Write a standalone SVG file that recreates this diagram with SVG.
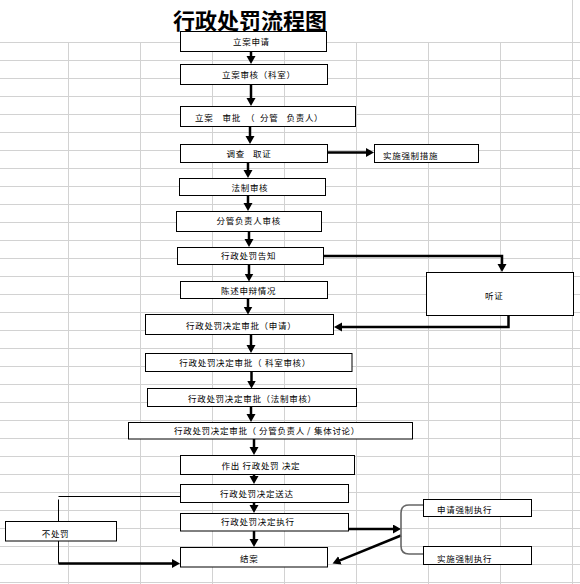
<svg xmlns="http://www.w3.org/2000/svg" width="580" height="584" viewBox="0 0 580 584">
<defs>
<style>
.grid line{stroke:#d2d2d2;stroke-width:1}
.box rect{fill:#fff;stroke:#000;stroke-width:1}
.t{font-family:"Noto Sans CJK SC","Noto Sans",sans-serif;font-size:8.5px;letter-spacing:0.7px;fill:#000}
.title{font-family:"Noto Sans CJK SC","Noto Sans",sans-serif;font-size:22px;font-weight:bold;fill:#000}
.arr{fill:none;stroke:#000;stroke-width:2.5;marker-end:url(#ah)}
.thin{fill:none;stroke:#000;stroke-width:1}
.brace{fill:none;stroke:#666;stroke-width:1.6}
</style>
<marker id="ah" markerUnits="userSpaceOnUse" markerWidth="10" markerHeight="10" refX="2" refY="4.5" orient="auto">
<path d="M0,0 L8,4.5 L0,9 Z" fill="#000"/>
</marker>
</defs>
<rect width="580" height="584" fill="#fff"/>
<g class="grid" id="grid">
<line x1="0" y1="42.5" x2="580" y2="42.5"/><line x1="0" y1="60.5" x2="580" y2="60.5"/><line x1="0" y1="78.5" x2="580" y2="78.5"/><line x1="0" y1="96.5" x2="580" y2="96.5"/><line x1="0" y1="114.5" x2="580" y2="114.5"/><line x1="0" y1="132.5" x2="580" y2="132.5"/><line x1="0" y1="150.5" x2="580" y2="150.5"/><line x1="0" y1="168.5" x2="580" y2="168.5"/><line x1="0" y1="186.5" x2="580" y2="186.5"/><line x1="0" y1="204.5" x2="580" y2="204.5"/><line x1="0" y1="222.5" x2="580" y2="222.5"/><line x1="0" y1="240.5" x2="580" y2="240.5"/><line x1="0" y1="258.5" x2="580" y2="258.5"/><line x1="0" y1="276.5" x2="580" y2="276.5"/><line x1="0" y1="294.5" x2="580" y2="294.5"/><line x1="0" y1="312.5" x2="580" y2="312.5"/><line x1="0" y1="330.5" x2="580" y2="330.5"/><line x1="0" y1="348.5" x2="580" y2="348.5"/><line x1="0" y1="366.5" x2="580" y2="366.5"/><line x1="0" y1="384.5" x2="580" y2="384.5"/><line x1="0" y1="402.5" x2="580" y2="402.5"/><line x1="0" y1="420.5" x2="580" y2="420.5"/><line x1="0" y1="438.5" x2="580" y2="438.5"/><line x1="0" y1="456.5" x2="580" y2="456.5"/><line x1="0" y1="474.5" x2="580" y2="474.5"/><line x1="0" y1="492.5" x2="580" y2="492.5"/><line x1="0" y1="510.5" x2="580" y2="510.5"/><line x1="0" y1="528.5" x2="580" y2="528.5"/><line x1="0" y1="546.5" x2="580" y2="546.5"/><line x1="0" y1="564.5" x2="580" y2="564.5"/><line x1="0" y1="582.5" x2="580" y2="582.5"/>
<line x1="68.5" y1="42" x2="68.5" y2="584"/><line x1="140.5" y1="42" x2="140.5" y2="584"/><line x1="212.5" y1="42" x2="212.5" y2="584"/><line x1="284.5" y1="42" x2="284.5" y2="584"/><line x1="356.5" y1="42" x2="356.5" y2="584"/><line x1="428.5" y1="42" x2="428.5" y2="584"/><line x1="500.5" y1="42" x2="500.5" y2="584"/><line x1="572.5" y1="0" x2="572.5" y2="584"/>
</g>
<text class="title" x="173" y="29">行政处罚流程图</text>
<g id="connectors">
<path class="arr" d="M251,52 V58"/>
<path class="arr" d="M251,85 V100"/>
<path class="arr" d="M250,127 V138"/>
<path class="arr" d="M248,163 V172"/>
<path class="arr" d="M248,196 V205"/>
<path class="arr" d="M249,232 V241"/>
<path class="arr" d="M249,265 V275.5"/>
<path class="arr" d="M248,299 V308.5"/>
<path class="arr" d="M251,335 V347"/>
<path class="arr" d="M251.5,372 V382.5"/>
<path class="arr" d="M251,407 V416"/>
<path class="arr" d="M254,439 V449"/>
<path class="arr" d="M254,475 V478"/>
<path class="arr" d="M254,503 V507"/>
<path class="arr" d="M254,531 V541"/>
<path class="arr" d="M327.5,152.5 H368"/>
<path class="arr" d="M324,256 H502 V266"/>
<path class="arr" d="M508.5,315 V327 H340"/>
<path class="thin" d="M180,496.5 H58.5"/>
<path class="thin" d="M58.5,499.5 V521"/>
<path class="thin" d="M58.5,541 V563.5"/>
<path class="arr" d="M58.5,563.5 H174"/>
<path class="arr" d="M349,529 H395"/>
<path class="arr" d="M401,535.5 L338.1,561.2"/>
<path class="brace" d="M423,505 H409 Q401,505 401,513 V546 Q401,554 409,554 H423"/>
</g>
<g class="box" id="n1"><rect x="180.5" y="31.5" width="146" height="20"/><text class="t" x="233" y="45">立案申请</text></g>
<g class="box" id="n2"><rect x="180.5" y="64.5" width="147" height="20"/><text class="t" x="222" y="78.2">立案审核（科室）</text></g>
<g class="box" id="n3"><rect x="180.5" y="106.5" width="175" height="20"/><text class="t" y="120.5"><tspan x="195">立案</tspan><tspan x="222.5">审批</tspan><tspan x="246">（</tspan><tspan x="260">分管</tspan><tspan x="286.5">负责人）</tspan></text></g>
<g class="box" id="n4"><rect x="180.5" y="144.5" width="147" height="18"/><text class="t" y="157.2"><tspan x="226.5">调查</tspan><tspan x="253">取证</tspan></text></g>
<g class="box" id="n5"><rect x="374.5" y="144.5" width="104" height="18"/><text class="t" x="383" y="159.2">实施强制措施</text></g>
<g class="box" id="n6"><rect x="179.5" y="178.5" width="146" height="17"/><text class="t" x="231.5" y="190.5">法制审核</text></g>
<g class="box" id="n7"><rect x="176.5" y="211.5" width="145" height="20"/><text class="t" x="216.5" y="224.2">分管负责人审核</text></g>
<g class="box" id="n8"><rect x="177.5" y="247.5" width="146" height="17"/><text class="t" x="221" y="259.2">行政处罚告知</text></g>
<g class="box" id="n9"><rect x="180.5" y="281.5" width="147" height="17"/><text class="t" x="221" y="293.9">陈述申辩情况</text></g>
<g class="box" id="n10"><rect x="426.5" y="272.5" width="147" height="43"/><text class="t" x="485" y="298.9">听证</text></g>
<g class="box" id="n11"><rect x="145.5" y="314.5" width="188" height="20"/><text class="t" x="186" y="328.9">行政处罚决定审批（申请）</text></g>
<g class="box" id="n12"><rect x="145.5" y="353.5" width="206.5" height="18"/><text class="t" y="365.9"><tspan x="179.3">行政处罚决定审批（</tspan><tspan x="265">科室审核）</tspan></text></g>
<g class="box" id="n13"><rect x="147.5" y="388.5" width="209" height="18"/><text class="t" x="188" y="401.5">行政处罚决定审批（法制审核）</text></g>
<g class="box" id="n14"><rect x="128.5" y="422.5" width="284" height="16.5"/><text class="t" y="433.9"><tspan x="174">行政处罚决定审批（</tspan><tspan x="259">分管负责人</tspan><tspan x="307">/</tspan><tspan x="314">集体讨论）</tspan></text></g>
<g class="box" id="n15"><rect x="180.5" y="455.5" width="174" height="19"/><text class="t" x="221.5" y="468.5" xml:space="preserve">作出 行政处罚 决定</text></g>
<g class="box" id="n16"><rect x="180.5" y="484.5" width="168" height="18"/><text class="t" x="220" y="496.5">行政处罚决定送达</text></g>
<g class="box" id="n17"><rect x="180.5" y="513.5" width="168" height="17.5"/><text class="t" x="221" y="525.2">行政处罚决定执行</text></g>
<g class="box" id="n18"><rect x="180.5" y="547.5" width="147" height="19.5"/><text class="t" x="240" y="562.2">结案</text></g>
<g class="box" id="n19"><rect x="5.5" y="521.5" width="111" height="19.5"/><text class="t" x="41.7" y="536.5">不处罚</text></g>
<g class="box" id="n20"><rect x="423.5" y="499.5" width="108" height="17"/><text class="t" x="437" y="513.2">申请强制执行</text></g>
<g class="box" id="n21"><rect x="423.5" y="546.5" width="108" height="18"/><text class="t" x="437" y="561.5">实施强制执行</text></g>
</svg>
